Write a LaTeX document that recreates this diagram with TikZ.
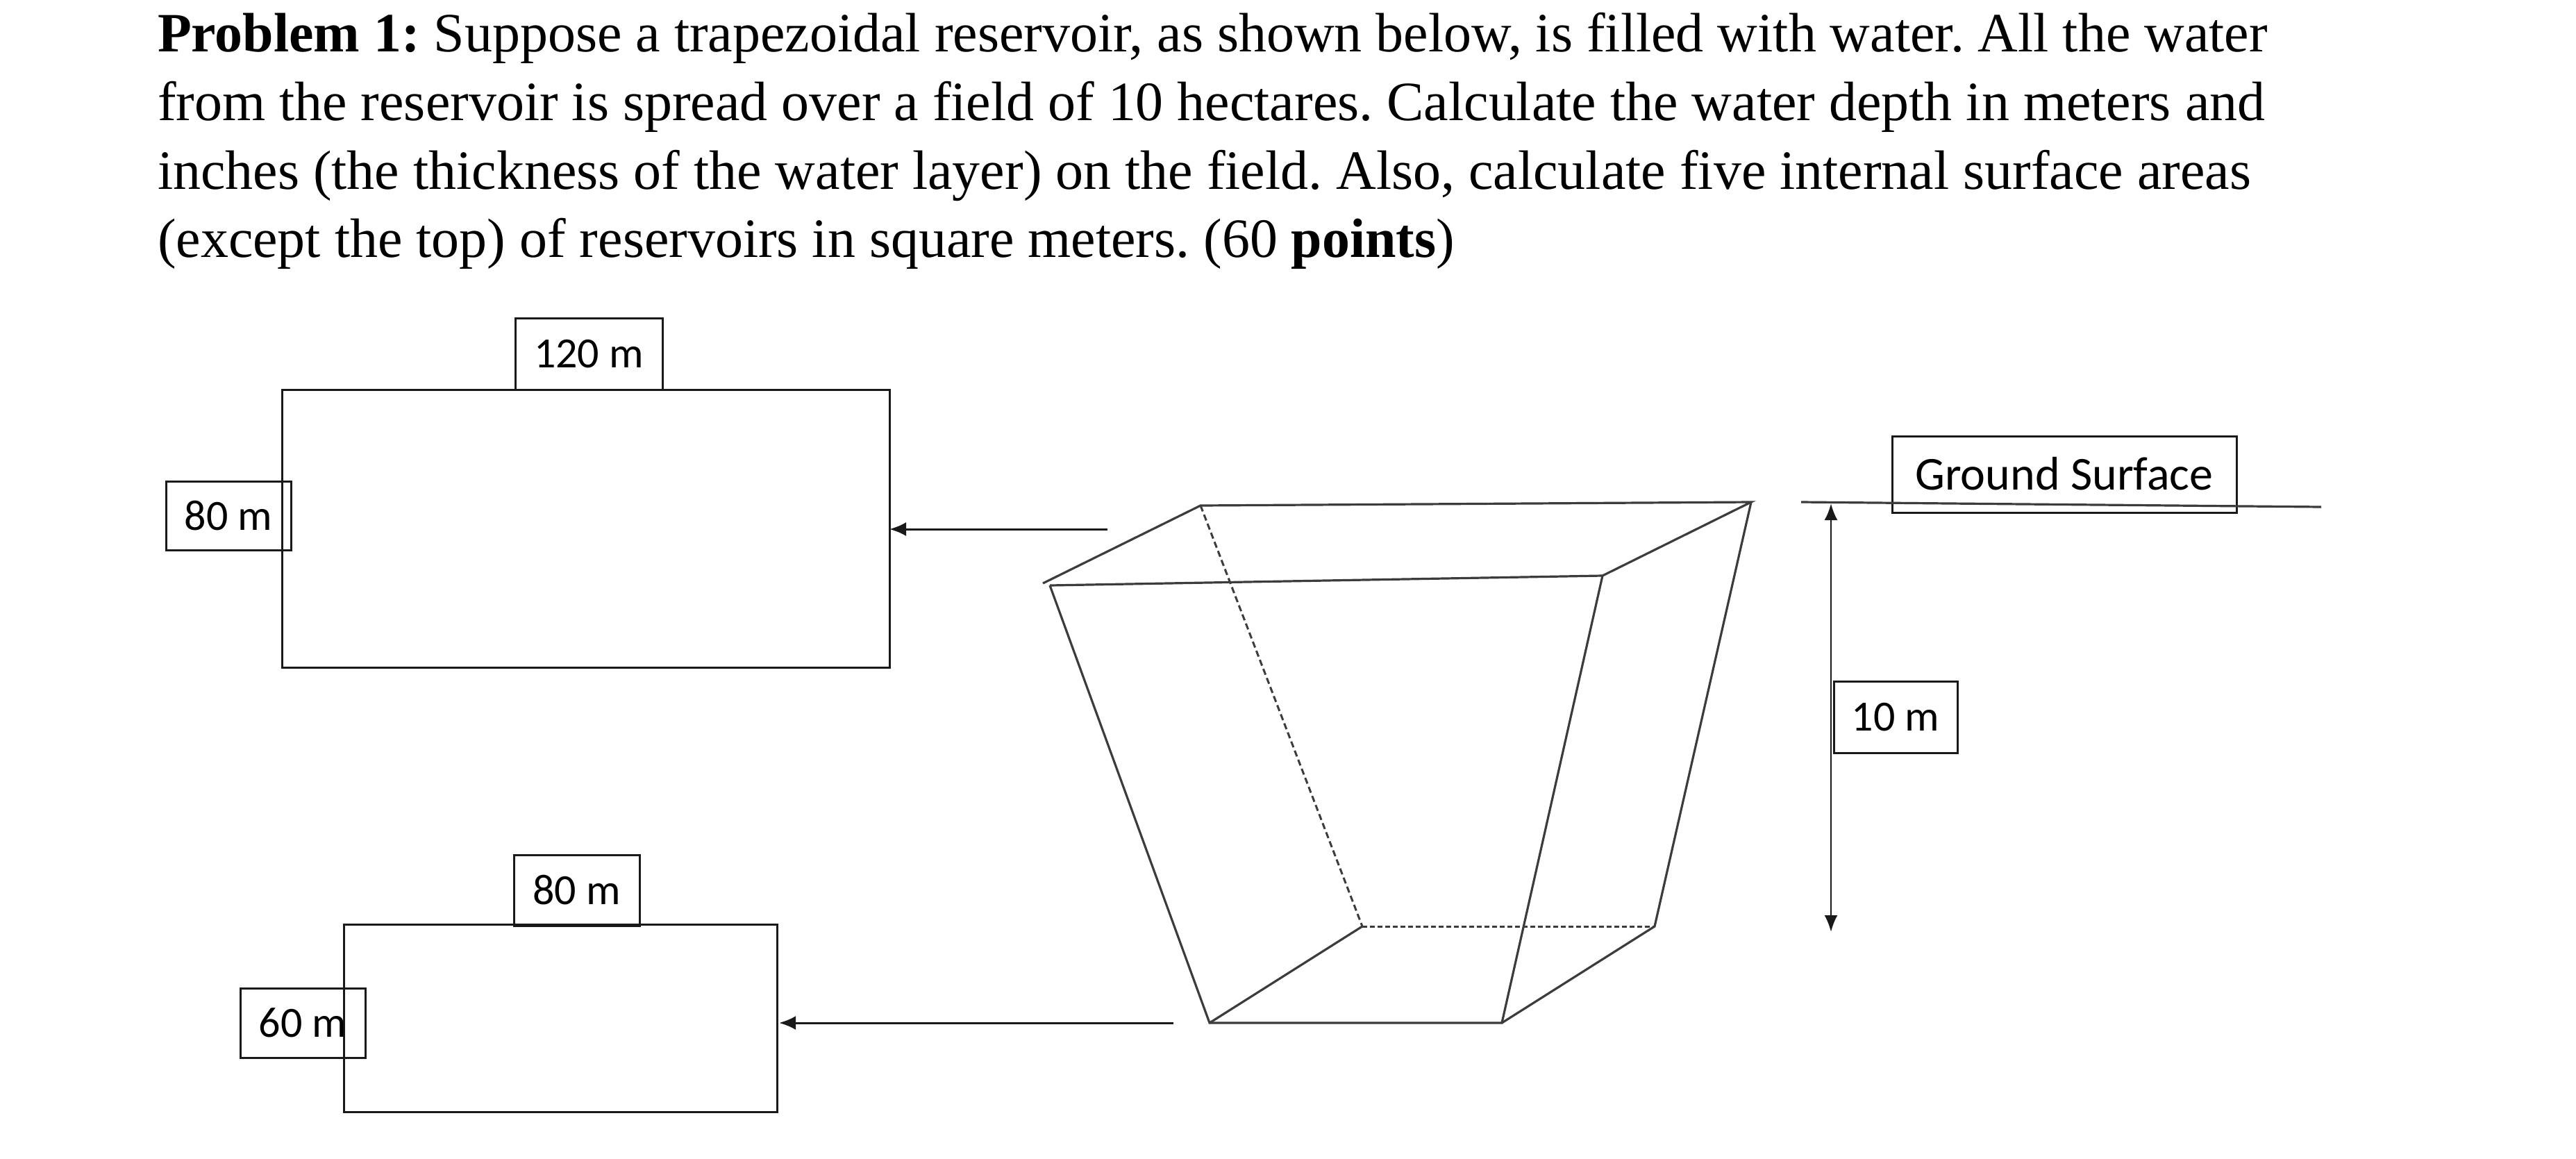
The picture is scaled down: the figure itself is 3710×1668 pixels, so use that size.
\documentclass[tikz,border=0pt]{standalone}
\usepackage{fontspec}
\setmainfont{Liberation Serif}
\newfontfamily\lblfont{Carlito}
\usetikzlibrary{arrows.meta,calc}
\definecolor{ink}{RGB}{25,25,25}
\frenchspacing
\tikzset{
  x=1pt,y=-1pt,
  para/.style={anchor=base west,inner sep=0pt,outer sep=0pt,font=\fontsize{79.9}{90}\selectfont,text=black},
  frame/.style={draw=ink,line width=3pt,inner sep=0pt,outer sep=0pt},
  lbl/.style={frame,font=\lblfont\fontsize{62}{70}\selectfont,text=black},
  edge/.style={draw=ink!85,line width=3.2pt},
  hidden/.style={draw=ink!85,line width=3pt,dash pattern=on 9pt off 5pt},
  pointer/.style={draw=ink,line width=3pt,-{Latex[length=24pt,width=20pt]}},
  dimen/.style={draw=ink,line width=2.8pt,{Latex[length=24pt,width=19pt]}-{Latex[length=24pt,width=19pt]}}
}
\begin{document}
\begin{tikzpicture}
\useasboundingbox (0,0) rectangle (3710,1668);
% paragraph
\node[para] (l1) at (227,74) {\textbf{Problem 1:} Suppose a trapezoidal reservoir, as shown below, is filled with water. All the water};
\node[para] (l2) at (227,173) {from the reservoir is spread over a field of 10 hectares. Calculate the water depth in meters and};
\node[para] (l3) at (227,272) {inches (the thickness of the water layer) on the field. Also, calculate five internal surface areas};
\node[para] (l4) at (227,370) {(except the top) of reservoirs in square meters. (60 \textbf{points})};
% plan rectangles
\node[frame,minimum width=875pt,minimum height=400pt] (topplan) at (843.5,761) {};
\node[frame,minimum width=624pt,minimum height=270pt] (botplan) at (807,1466) {};
% labels
\node[lbl,minimum width=212pt,minimum height=103pt] (l120) at (848,509.5) {120 m};
\node[lbl,minimum width=180pt,minimum height=99pt] (l80a) at (329,742.5) {80 m};
\node[lbl,minimum width=181pt,minimum height=102pt] (l80b) at (830.5,1282) {80 m};
\node[lbl,minimum width=180pt,minimum height=100pt] (l60) at (436,1473) {60 m};
\node[lbl,font=\lblfont\fontsize{68}{70}\selectfont,minimum width=496pt,minimum height=110pt] (lground) at (2973,683) {\raisebox{2pt}{Ground Surface}};
% reservoir corners
\coordinate (A) at (1729,728);
\coordinate (B) at (2522,723);
\coordinate (C) at (2308,829);
\coordinate (D) at (1512,843);
\coordinate (Dx) at (1502,840);
\coordinate (E) at (1742,1473);
\coordinate (F) at (2163,1473);
\coordinate (G) at (1962,1334);
\coordinate (H) at (2383,1334);
\draw[edge] (Dx) -- (A) -- (B) -- (C) -- (D);
\draw[edge] (D) -- (E) -- (F) -- (C);
\draw[edge] (B) -- (H) -- (F);
\draw[edge] (E) -- (G);
\draw[hidden] (A) -- (G);
\draw[hidden,dash pattern=on 7pt off 4pt] (G) -- (H);
% arrows
\coordinate (p1) at (1595,762);
\coordinate (p2) at (1690,1473);
\draw[pointer] (p1) -- (topplan.east |- p1);
\draw[pointer] (p2) -- ($(botplan.east |- p2)+(3,0)$);
% ground line and depth
\coordinate (g1) at (2594,723);
\coordinate (g2) at (3343,730);
\draw[edge] (g1) -- (g2);
\coordinate (d1) at (2637,725);
\coordinate (d2) at (2637,1342);
\draw[dimen] (d1) -- (d2);
\node[lbl,fill=white,minimum width=178pt,minimum height=103pt] (l10) at (2730,1032.5) {10 m};
\end{tikzpicture}
\end{document}
